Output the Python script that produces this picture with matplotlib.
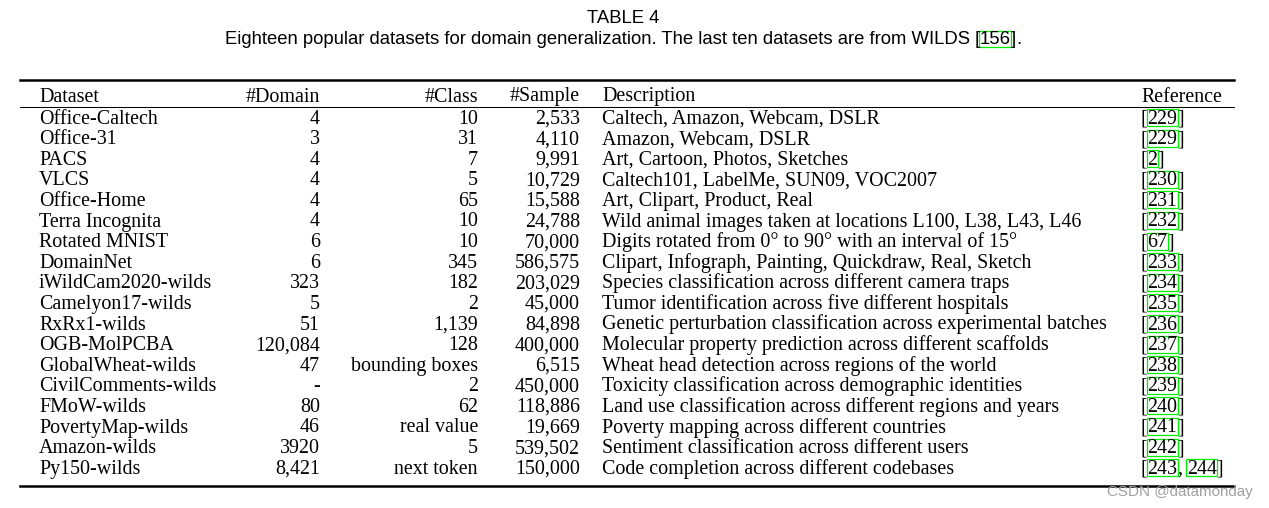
import matplotlib
matplotlib.use("Agg")
import matplotlib.pyplot as plt
from matplotlib.patches import Rectangle
from matplotlib.lines import Line2D

title = "TABLE 4"
caption_pre = "Eighteen popular datasets for domain generalization. The last ten datasets are from WILDS "
caption_ref = "156"
headers = ["Dataset", "#Domain", "#Class", "#Sample", "Description", "Reference"]
datasets = ["Office-Caltech", "Office-31", "PACS", "VLCS", "Office-Home", "Terra Incognita",
            "Rotated MNIST", "DomainNet", "iWildCam2020-wilds", "Camelyon17-wilds", "RxRx1-wilds",
            "OGB-MolPCBA", "GlobalWheat-wilds", "CivilComments-wilds", "FMoW-wilds",
            "PovertyMap-wilds", "Amazon-wilds", "Py150-wilds"]
domains = ["4", "3", "4", "4", "4", "4", "6", "6", "323", "5", "51", "120,084", "47", "-", "80",
           "46", "3920", "8,421"]
classes = ["10", "31", "7", "5", "65", "10", "10", "345", "182", "2", "1,139", "128",
           "bounding boxes", "2", "62", "real value", "5", "next token"]
samples = ["2,533", "4,110", "9,991", "10,729", "15,588", "24,788", "70,000", "586,575",
           "203,029", "45,000", "84,898", "400,000", "6,515", "450,000", "118,886", "19,669",
           "539,502", "150,000"]
descriptions = [
    "Caltech, Amazon, Webcam, DSLR",
    "Amazon, Webcam, DSLR",
    "Art, Cartoon, Photos, Sketches",
    "Caltech101, LabelMe, SUN09, VOC2007",
    "Art, Clipart, Product, Real",
    "Wild animal images taken at locations L100, L38, L43, L46",
    "Digits rotated from 0\u00b0 to 90\u00b0 with an interval of 15\u00b0",
    "Clipart, Infograph, Painting, Quickdraw, Real, Sketch",
    "Species classification across different camera traps",
    "Tumor identification across five different hospitals",
    "Genetic perturbation classification across experimental batches",
    "Molecular property prediction across different scaffolds",
    "Wheat head detection across regions of the world",
    "Toxicity classification across demographic identities",
    "Land use classification across different regions and years",
    "Poverty mapping across different countries",
    "Sentiment classification across different users",
    "Code completion across different codebases",
]
references = [["229"], ["229"], ["2"], ["230"], ["231"], ["232"], ["67"], ["233"], ["234"],
              ["235"], ["236"], ["237"], ["238"], ["239"], ["240"], ["241"], ["242"],
              ["243", "244"]]
watermark = "CSDN @datamonday"

W, H = 1269, 508
fig = plt.figure(figsize=(W / 100, H / 100), dpi=100)
fig.patch.set_facecolor("white")
renderer = fig.canvas.get_renderer()

SERIF = ["Liberation Serif", "DejaVu Serif"]
SANS = ["Liberation Sans", "DejaVu Sans"]
FS = 14.4
CAP = 13.3
GREEN = "#00ee00"


def fx(x):
    return x / W


def fy(y):
    return 1 - y / H


def put(x, y, s, ha="left", family=SERIF, size=FS, color="black"):
    return fig.text(fx(x), fy(y), s, ha=ha, va="baseline", family=family,
                    fontsize=size, color=color)


def wid(s, family=SERIF, size=FS):
    t = fig.text(0, 0, s, family=family, fontsize=size)
    w = t.get_window_extent(renderer).width
    t.remove()
    return w


def boxed(x, y, s, family=SERIF, size=FS, top=14.5, bot=2.5):
    put(x, y, s, family=family, size=size)
    w = wid(s, family, size)
    fig.patches.append(Rectangle((fx(x - 0.5), fy(y + bot)), (w + 1.0) / W, (top + bot) / H,
                                 transform=fig.transFigure, fill=False,
                                 edgecolor=GREEN, linewidth=0.9))
    return w


def ref_cell(x, y, parts, family=SERIF, size=FS, top=14.5, bot=2.5):
    put(x, y, "[", family=family, size=size)
    cx = x + wid("[", family, size)
    for i, p in enumerate(parts):
        cx += boxed(cx, y, p, family=family, size=size, top=top, bot=bot)
        if i < len(parts) - 1:
            put(cx, y, ",", family=family, size=size)
            cx += wid(", ", family, size) - 1
    put(cx, y, "]", family=family, size=size)
    return cx + wid("]", family, size)


# Title and caption
put(623, 23, title, ha="center", family=SANS, size=CAP)
cap_y = 44
total_w = wid(caption_pre + "[" + caption_ref + "].", SANS, CAP)
cx0 = 623 - total_w / 2
put(cx0, cap_y, caption_pre, family=SANS, size=CAP)
end = ref_cell(cx0 + wid(caption_pre, SANS, CAP), cap_y, [caption_ref], family=SANS,
               size=CAP, top=13.5, bot=2.5)
put(end, cap_y, ".", family=SANS, size=CAP)


# Rules
def hrule(y, lw):
    fig.add_artist(Line2D([fx(20), fx(1234)], [fy(y), fy(y)], color="black",
                          linewidth=lw, transform=fig.transFigure))


hrule(79.6, 1.8)
hrule(106.6, 0.75)
hrule(485.6, 1.8)

# Column positions
x_ds, x_dom, x_cls, x_smp, x_desc, x_ref = 39, 320, 478, 580, 602, 1141
y_head = 101.5
row0 = 123.5
step = 20.6

put(x_ds, y_head, headers[0])
put(x_dom, y_head, headers[1], ha="right")
put(x_cls, y_head, headers[2], ha="right")
put(x_smp, y_head, headers[3], ha="right")
put(x_desc, y_head, headers[4])
put(x_ref, y_head, headers[5])

for i in range(len(datasets)):
    y = row0 + i * step
    put(x_ds, y, datasets[i])
    put(x_dom, y, domains[i], ha="right")
    put(x_cls, y, classes[i], ha="right")
    put(x_smp, y, samples[i], ha="right")
    put(x_desc, y, descriptions[i])
    ref_cell(x_ref, y, references[i])

put(1253, 496, watermark, ha="right", family=SANS, size=10.9, color="#a0a0a0")

fig.savefig("out.png", dpi=100, facecolor="white")
